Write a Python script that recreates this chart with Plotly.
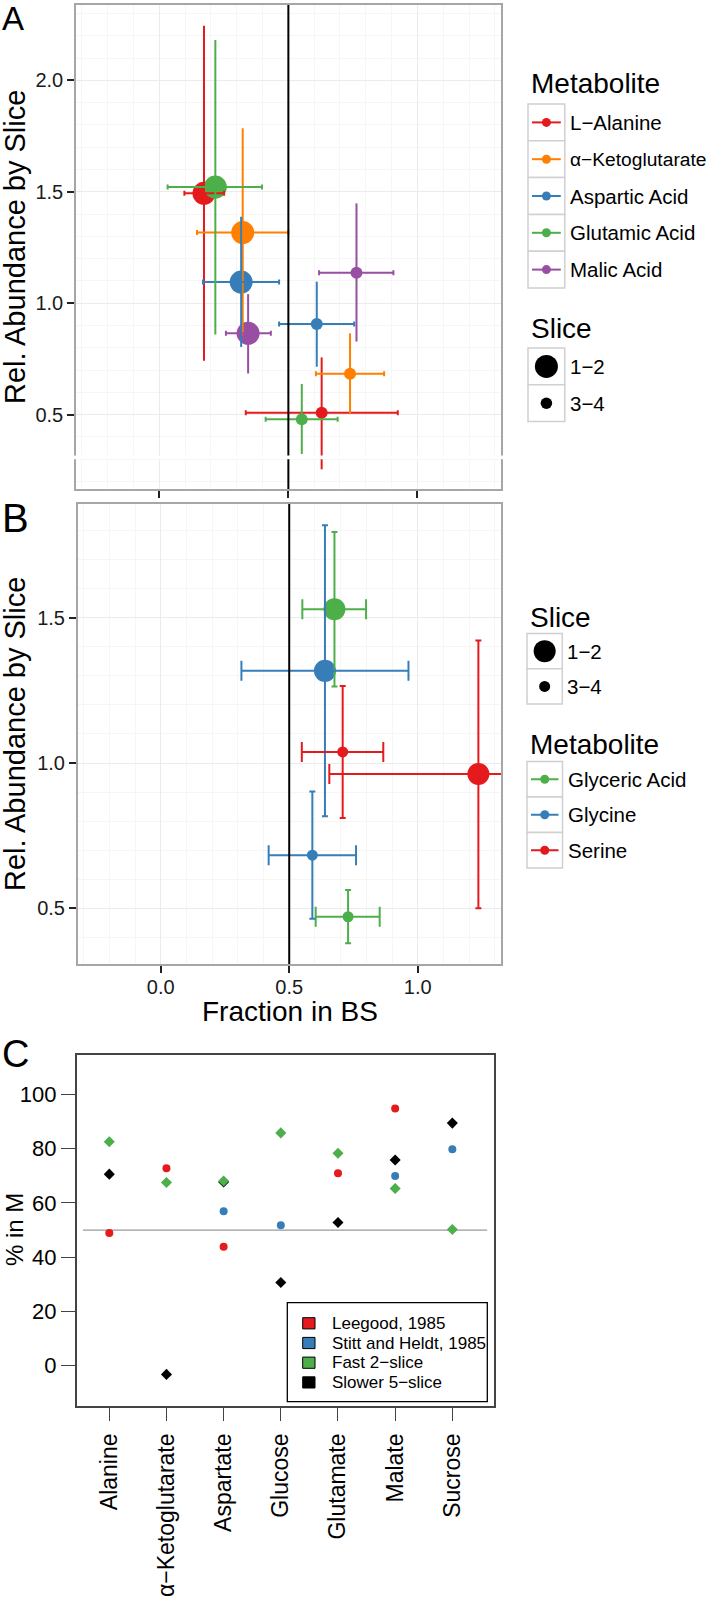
import plotly.graph_objects as go

W, H = 720, 1600
FONT = "Liberation Sans, Arial, Helvetica, sans-serif"

# ---------------- Panel A data ----------------
metab_A = ["L\u2212Alanine", "\u03b1\u2212Ketoglutarate", "Aspartic Acid", "Glutamic Acid", "Malic Acid"]
colors_A = ["#E41A1C", "#FF7F00", "#377EB8", "#4DAF4A", "#984EA3"]
# slice 1-2
A12_x = [0.173, 0.323, 0.317, 0.217, 0.344]
A12_xlo = [0.097, 0.146, 0.169, 0.032, 0.258]
A12_xhi = [0.251, 0.500, 0.464, 0.398, 0.432]
A12_y = [1.493, 1.317, 1.095, 1.521, 0.865]
A12_ylo = [0.742, 0.857, 0.804, 0.860, 0.685]
A12_yhi = [2.245, 1.785, 1.388, 2.181, 1.041]
# slice 3-4
A34_x = [0.629, 0.739, 0.610, 0.552, 0.764]
A34_xlo = [0.335, 0.607, 0.464, 0.412, 0.619]
A34_xhi = [0.924, 0.871, 0.755, 0.691, 0.907]
A34_y = [0.509, 0.684, 0.907, 0.479, 1.137]
A34_ylo = [0.255, 0.506, 0.715, 0.324, 0.828]
A34_yhi = [0.757, 0.865, 1.097, 0.638, 1.448]

# ---------------- Panel B data ----------------
metab_B = ["Glyceric Acid", "Glycine", "Serine"]
colors_B = ["#4DAF4A", "#377EB8", "#E41A1C"]
B12_x = [0.676, 0.639, 1.236]
B12_xlo = [0.551, 0.314, 0.656]
B12_xhi = [0.799, 0.964, 1.816]
B12_y = [1.529, 1.317, 0.962]
B12_ylo = [1.263, 0.817, 0.500]
B12_yhi = [1.795, 1.818, 1.421]
B34_x = [0.729, 0.590, 0.708]
B34_xlo = [0.603, 0.420, 0.549]
B34_xhi = [0.852, 0.760, 0.866]
B34_y = [0.471, 0.683, 1.038]
B34_ylo = [0.380, 0.464, 0.811]
B34_yhi = [0.563, 0.902, 1.265]

slice_labels = ["1\u22122", "3\u22124"]

# ---------------- Panel C data ----------------
categories_C = ["Alanine", "\u03b1\u2212Ketoglutarate", "Aspartate", "Glucose", "Glutamate", "Malate", "Sucrose"]
leegood = [48.9, 72.8, 43.8, None, 70.9, 94.8, None]
stitt = [None, None, 56.9, 51.8, None, 69.9, 79.8]
fast2 = [82.5, 67.5, 68.1, 85.8, 78.3, 65.3, 50.2]
slow5 = [70.6, -3.2, 67.7, 30.7, 52.8, 75.8, 89.4]
series_C = ["Leegood, 1985", "Stitt and Heldt, 1985", "Fast 2\u2212slice", "Slower 5\u2212slice"]
colors_C = ["#E41A1C", "#377EB8", "#4DAF4A", "#000000"]
pos_C = list(range(1, len(categories_C) + 1))


def px_x(X):
    return X / W


def px_y(Y):
    return 1 - Y / H


fig = go.Figure()


def add_panel(xa, ya, names, colors, d12, d34, s12, s34, capx, capy):
    # points first
    for (xs, ys, s) in [(d12[0], d12[3], s12), (d34[0], d34[3], s34)]:
        for i, nm in enumerate(names):
            fig.add_trace(go.Scatter(
                x=[xs[i]], y=[ys[i]], mode="markers", xaxis=xa, yaxis=ya,
                marker=dict(size=s, color=colors[i], line=dict(width=0)),
                showlegend=False, hoverinfo="skip"))
    # error bars on top
    for d in [d12, d34]:
        x, xlo, xhi, y, ylo, yhi = d
        for i, nm in enumerate(names):
            fig.add_trace(go.Scatter(
                x=[x[i]], y=[y[i]], mode="markers", xaxis=xa, yaxis=ya,
                marker=dict(size=1, opacity=0),
                error_x=dict(type="data", symmetric=False, array=[xhi[i] - x[i]],
                             arrayminus=[x[i] - xlo[i]], color=colors[i], thickness=2, width=capx),
                error_y=dict(type="data", symmetric=False, array=[yhi[i] - y[i]],
                             arrayminus=[y[i] - ylo[i]], color=colors[i], thickness=2, width=capy),
                showlegend=False, hoverinfo="skip"))


add_panel("x", "y", metab_A, colors_A,
          (A12_x, A12_xlo, A12_xhi, A12_y, A12_ylo, A12_yhi),
          (A34_x, A34_xlo, A34_xhi, A34_y, A34_ylo, A34_yhi), 23, 12, 2.5, 0)
add_panel("x2", "y2", metab_B, colors_B,
          (B12_x, B12_xlo, B12_xhi, B12_y, B12_ylo, B12_yhi),
          (B34_x, B34_xlo, B34_xhi, B34_y, B34_ylo, B34_yhi), 22, 11, 10, 3)

# Panel C
for vals, nm, col, sym, sz in [
        (leegood, series_C[0], colors_C[0], "circle", 8),
        (stitt, series_C[1], colors_C[1], "circle", 8),
        (slow5, series_C[3], colors_C[3], "diamond", 8.5),
        (fast2, series_C[2], colors_C[2], "diamond", 8.5)]:
    fig.add_trace(go.Scatter(x=pos_C, y=vals, mode="markers", xaxis="x3", yaxis="y3",
                             marker=dict(size=sz, color=col, symbol=sym, line=dict(width=0)),
                             showlegend=False, hoverinfo="skip"))

GRID = "#ebebeb"
MINOR = "#f6f6f6"
BORDER = "#a6a6a6"
TICKFONT = dict(family=FONT, size=20, color="#1a1a1a")

common_ab = dict(showline=True, mirror=True, linecolor=BORDER, linewidth=1.5,
                 showgrid=True, gridcolor=GRID, gridwidth=1.2, zeroline=False,
                 ticks="outside", ticklen=7, tickwidth=2, tickcolor="#222",
                 tickfont=TICKFONT, tickformat=".1f",
                 minor=dict(showgrid=True, gridcolor=MINOR, gridwidth=1, ticks=""))

CFONT = dict(family=FONT, size=22, color="black")

fig.update_layout(
    width=W, height=H, margin=dict(l=0, r=0, t=0, b=0),
    paper_bgcolor="white", plot_bgcolor="white", showlegend=False,
    font=dict(family=FONT, color="black"),
    xaxis=dict(domain=[px_x(76), px_x(501)], range=[-0.323, 1.324], anchor="y",
               tickvals=[0, 0.5, 1.0], showticklabels=False, **common_ab),
    yaxis=dict(domain=[px_y(489), px_y(5)], range=[0.1666, 2.338], anchor="x",
               tickvals=[0.5, 1.0, 1.5, 2.0], **common_ab),
    xaxis2=dict(domain=[px_x(77.7), px_x(501)], range=[-0.323, 1.324], anchor="y2",
                tickvals=[0, 0.5, 1.0], ticklabelstandoff=-3, **common_ab),
    yaxis2=dict(domain=[px_y(964), px_y(504)], range=[0.3085, 1.891], anchor="x2",
                tickvals=[0.5, 1.0, 1.5], **common_ab),
    xaxis3=dict(domain=[px_x(76.7), px_x(493.5)], range=[0.43, 7.72], anchor="y3",
                tickvals=pos_C, ticktext=categories_C, tickangle=-90,
                showline=True, mirror=True, linecolor="#444", linewidth=1.5,
                showgrid=False, zeroline=False, ticks="outside", ticklen=14,
                tickwidth=1.3, tickcolor="#444", ticklabelstandoff=3,
                tickfont=dict(family=FONT, size=23, color="black")),
    yaxis3=dict(domain=[px_y(1405.5), px_y(1055)], range=[-14.66, 114.5], anchor="x3",
                tickvals=[0, 20, 40, 60, 80, 100],
                showline=True, mirror=True, linecolor="#444", linewidth=1.5,
                showgrid=False, zeroline=False, ticks="outside", ticklen=14,
                tickwidth=1.3, tickcolor="#444", tickfont=CFONT),
)

shapes = []
# vertical line at 0.5 in A and B
for xr, yr in [("x", "y domain"), ("x2", "y2 domain")]:
    shapes.append(dict(type="line", xref=xr, yref=yr, x0=0.5, x1=0.5, y0=0, y1=1,
                       line=dict(color="black", width=2), layer="above"))
# axis break band in panel A
shapes.append(dict(type="rect", xref="paper", yref="paper", x0=px_x(72), x1=px_x(505),
                   y0=px_y(459.3), y1=px_y(455.5), fillcolor="white", line=dict(width=0),
                   layer="above"))
# reference line at 50 in panel C
shapes.append(dict(type="line", xref="x3", yref="y3", x0=0.54, x1=7.61, y0=50, y1=50,
                   line=dict(color="#9a9a9a", width=1.2), layer="between"))

annotations = []


def ann(text, X, Y, size, xanchor="left", yanchor="middle", angle=0, color="black"):
    annotations.append(dict(text=text, x=px_x(X), y=px_y(Y), xref="paper", yref="paper",
                            xanchor=xanchor, yanchor=yanchor, showarrow=False, textangle=angle,
                            font=dict(family=FONT, size=size, color=color)))


KEYBORDER = "#d0d0d0"


def key_box(x0, y0, size=36.5):
    shapes.append(dict(type="rect", xref="paper", yref="paper",
                       x0=px_x(x0), x1=px_x(x0 + size), y0=px_y(y0 + size), y1=px_y(y0),
                       line=dict(color=KEYBORDER, width=1.5), fillcolor="white", layer="above"))


def circle(cx, cy, d, color):
    shapes.append(dict(type="circle", xref="paper", yref="paper",
                       x0=px_x(cx - d / 2), x1=px_x(cx + d / 2), y0=px_y(cy + d / 2), y1=px_y(cy - d / 2),
                       fillcolor=color, line=dict(width=0), layer="above"))


def color_legend(title, title_y, xk, top, names, colors, step=36.8, sizes=None):
    ann(title, xk + 1, title_y, 28)
    for i, (nm, col) in enumerate(zip(names, colors)):
        y0 = top + i * step
        key_box(xk, y0, step)
        cy = y0 + step / 2
        cx = xk + step / 2
        shapes.append(dict(type="line", xref="paper", yref="paper",
                           x0=px_x(xk + 4), x1=px_x(xk + step - 4), y0=px_y(cy), y1=px_y(cy),
                           line=dict(color=col, width=2), layer="above"))
        circle(cx, cy, 9, col)
        fs = sizes[i] if sizes else 20.5
        ann(nm, xk + step + 3, cy, fs)


def size_legend(title, title_y, xk, top, labels, sizes, step=36.8):
    ann(title, xk + 1, title_y, 28)
    for i, (lb, sz) in enumerate(zip(labels, sizes)):
        y0 = top + i * step
        key_box(xk, y0, step)
        circle(xk + step / 2, y0 + step / 2, sz, "black")
        ann(lb, xk + step + 3, y0 + step / 2, 20.5)


# Panel A legends
color_legend("Metabolite", 84, 528, 104, metab_A, colors_A,
             sizes=[20.5, 19.2, 20.5, 20.5, 20.5])
size_legend("Slice", 329, 528, 348, slice_labels, [23, 11.5])
# Panel B legends
size_legend("Slice", 617, 527, 633.5, slice_labels, [22, 11], step=35.3)
color_legend("Metabolite", 744, 527, 761.5, metab_B, colors_B, step=35.5)

# Panel C legend box
shapes.append(dict(type="rect", xref="paper", yref="paper", x0=px_x(287.3), x1=px_x(487.3),
                   y0=px_y(1401.7), y1=px_y(1302.7), line=dict(color="black", width=1.3),
                   fillcolor="white", layer="above"))
for i, (nm, col) in enumerate(zip(series_C, colors_C)):
    cy = 1323.3 + i * 19.7
    shapes.append(dict(type="rect", xref="paper", yref="paper", x0=px_x(302.7), x1=px_x(315),
                       y0=px_y(cy + 5.6), y1=px_y(cy - 5.6), fillcolor=col,
                       line=dict(color="black", width=1), layer="above"))
    ann(nm, 330, cy, 17)

# Axis titles
ann("Rel. Abundance by Slice", 15, 247, 29, xanchor="center", angle=-90)
ann("Rel. Abundance by Slice", 15, 734, 29, xanchor="center", angle=-90)
ann("Fraction in BS", 289.5, 1012, 28, xanchor="center")
ann("% in M", 14, 1230, 24, xanchor="center", angle=-90)

# Panel letters
ann("A", 0, 19, 33)
ann("B", 0, 518, 40)
ann("C", 0, 1054, 38)

fig.update_layout(shapes=shapes, annotations=annotations)
fig.write_html("out.html", config={"displayModeBar": False},
               post_script="document.body.style.margin='0px';")
